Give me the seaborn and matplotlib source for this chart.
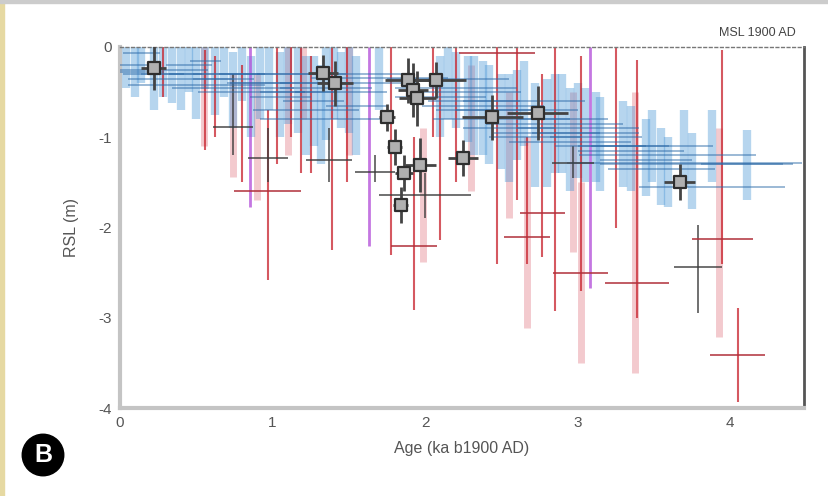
import numpy as np
import pandas as pd
import matplotlib
matplotlib.use("Agg")
import matplotlib.pyplot as plt
import seaborn as sns
from matplotlib.patches import Rectangle

# ---------------- data ----------------
# blue records: x, y (centre), x half-width, vertical top, vertical bottom
blue_x   = [0.04, 0.10, 0.14, 0.22, 0.28, 0.34, 0.40, 0.45, 0.50, 0.56, 0.62, 0.68, 0.74, 0.80, 0.86, 0.92, 0.98,
            1.05, 1.10, 1.17, 1.22, 1.27, 1.32, 1.35, 1.40, 1.45, 1.50, 1.55,
            1.70, 2.10, 2.15, 2.20, 2.28, 2.32, 2.38, 2.42, 2.50, 2.55, 2.60, 2.65, 2.72, 2.80, 2.85, 2.90, 2.95,
            3.00, 3.05, 3.12, 3.15, 3.30, 3.35, 3.45, 3.49, 3.55, 3.59, 3.70, 3.75, 3.88, 4.11]
blue_y   = [-0.28, -0.20, -0.07, -0.30, -0.25, -0.30, -0.35, -0.20, -0.42, -0.15, -0.30, -0.35, -0.45, -0.30, -0.50, -0.40, -0.30,
            -0.55, -0.40, -0.50, -0.70, -0.60, -0.80, -0.45, -0.30, -0.50, -0.40, -0.65,
            -0.34, -0.55, -0.35, -0.45, -0.50, -0.60, -0.65, -0.70, -0.80, -0.90, -0.70, -0.60, -1.00, -0.95, -0.85, -0.80, -1.05,
            -0.90, -0.95, -1.00, -1.10, -1.10, -1.15, -1.25, -1.10, -1.35, -1.20, -1.28, -1.30, -1.55, -1.30]
blue_xe  = [0.25, 0.15, 0.12, 0.20, 0.30, 0.20, 0.35, 0.15, 0.45, 0.10, 0.30, 0.20, 0.40, 0.15, 0.35, 0.20, 0.50,
            0.20, 0.40, 0.25, 0.35, 0.20, 0.40, 0.30, 0.50, 0.30, 0.45, 0.20,
            0.45, 0.30, 0.40, 0.40, 0.35, 0.30, 0.40, 0.35, 0.45, 0.30, 0.40, 0.40, 0.30, 0.35, 0.45, 0.30, 0.40,
            0.40, 0.35, 0.30, 0.30, 0.30, 0.35, 0.30, 0.40, 0.35, 0.58, 0.77, 0.60, 0.48, 0.30]
blue_top = [0.00, 0.00, 0.00, 0.00, 0.00, 0.00, 0.00, 0.00, 0.00, 0.00, 0.00, 0.00, -0.05, 0.00, -0.10, 0.00, 0.00,
            -0.05, 0.00, 0.00, -0.10, -0.10, -0.20, 0.00, 0.00, -0.05, 0.00, -0.10,
            0.00, -0.10, 0.00, -0.05, -0.10, -0.10, -0.15, -0.20, -0.30, -0.30, -0.25, -0.15, -0.40, -0.35, -0.30, -0.30, -0.45,
            -0.40, -0.45, -0.50, -0.55, -0.60, -0.65, -0.80, -0.70, -0.90, -1.00, -0.70, -0.95, -0.70, -0.92]
blue_bot = [-0.45, -0.55, -0.40, -0.70, -0.55, -0.62, -0.70, -0.50, -0.80, -0.47, -0.75, -0.55, -0.90, -0.60, -1.00, -0.80, -0.70,
            -1.00, -0.85, -0.95, -1.20, -1.10, -1.30, -1.03, -0.80, -0.90, -0.95, -1.20,
            -0.70, -1.00, -0.80, -0.90, -1.05, -1.20, -1.20, -1.30, -1.35, -1.50, -1.25, -1.10, -1.55, -1.55, -1.40, -1.40, -1.60,
            -1.45, -1.50, -1.50, -1.60, -1.55, -1.60, -1.65, -1.50, -1.75, -1.77, -1.55, -1.80, -1.50, -1.70]

# thin red records
red_x   = [0.28, 0.56, 0.62, 0.80, 0.97, 1.03, 1.12, 1.19, 1.25, 1.39, 1.49, 1.78, 1.93, 2.05, 2.10, 2.20,
           2.47, 2.60, 2.67, 2.77, 2.85, 3.02, 3.25, 3.39, 3.95, 4.05]
red_y   = [-0.30, -0.60, -0.50, -0.80, -1.60, -0.60, -0.50, -0.90, -0.70, -1.20, -0.70, -1.00, -2.21, -0.50, -1.00, -0.80,
           -0.07, -0.90, -2.10, -1.84, -1.00, -2.50, -1.00, -2.62, -2.13, -3.41]
red_xe  = [0.00, 0.00, 0.00, 0.00, 0.22, 0.00, 0.00, 0.00, 0.00, 0.00, 0.00, 0.00, 0.15, 0.00, 0.00, 0.00,
           0.25, 0.00, 0.15, 0.15, 0.00, 0.18, 0.00, 0.21, 0.20, 0.18]
red_top = [0.00, -0.03, -0.10, -0.20, -0.70, 0.00, 0.00, 0.00, -0.10, 0.00, 0.00, 0.00, -1.00, 0.00, -0.30, 0.00,
           0.00, 0.00, -1.00, -0.30, 0.00, -0.10, 0.00, -0.14, -0.03, -2.89]
red_bot = [-0.55, -1.14, -1.00, -1.50, -2.58, -1.30, -1.00, -1.40, -1.40, -2.25, -1.50, -2.30, -2.91, -1.00, -2.14, -1.50,
           -2.40, -1.70, -2.40, -2.33, -2.93, -2.70, -2.00, -3.00, -2.40, -3.93]

# wide pink records
pink_x   = [0.55, 0.74, 0.90, 1.10, 1.20, 1.50, 1.99, 2.30, 2.55, 2.67, 2.97, 3.02, 3.38, 3.93]
pink_top = [0.00, -0.29, -0.30, 0.00, 0.00, 0.00, -0.90, -0.20, -0.50, -1.00, -0.50, -1.50, -0.50, -0.90]
pink_bot = [-1.10, -1.44, -1.70, -1.20, -0.80, -1.20, -2.38, -1.60, -1.90, -3.11, -2.27, -3.50, -3.61, -3.21]

# purple records
purp_x   = [0.85, 1.63, 3.08]
purp_top = [0.00, 0.00, 0.00]
purp_bot = [-1.77, -2.20, -2.67]

# dark grey crosses
dark_x   = [0.74, 0.97, 1.37, 1.67, 2.00, 2.97, 3.79]
dark_y   = [-0.89, -1.23, -1.25, -1.38, -1.64, -1.28, -2.44]
dark_xe  = [0.13, 0.13, 0.15, 0.13, 0.30, 0.14, 0.16]
dark_top = [-0.30, -0.90, -0.90, -1.20, -1.40, -1.10, -1.97]
dark_bot = [-1.20, -1.50, -1.50, -1.50, -1.90, -1.45, -2.95]

# index points (grey squares)
sq_x   = [0.22, 1.33, 1.41, 1.75, 1.80, 1.86, 1.84, 1.89, 1.92, 1.95, 2.07, 1.97, 2.25, 2.44, 2.74, 3.67]
sq_y   = [-0.23, -0.29, -0.40, -0.78, -1.11, -1.40, -1.75, -0.37, -0.48, -0.57, -0.37, -1.31, -1.23, -0.78, -0.73, -1.50]
sq_xe  = [0.08, 0.10, 0.12, 0.05, 0.05, 0.06, 0.05, 0.15, 0.10, 0.12, 0.20, 0.10, 0.10, 0.20, 0.20, 0.10]
sq_ye  = [0.25, 0.20, 0.25, 0.15, 0.20, 0.20, 0.20, 0.25, 0.30, 0.30, 0.20, 0.30, 0.20, 0.25, 0.30, 0.20]

x_ticks = [0, 1, 2, 3, 4]
y_ticks = [0, -1, -2, -3, -4]

# ---------------- figure ----------------
sns.set_style("white")
plt.rcParams['font.family'] = ['Liberation Sans', 'DejaVu Sans']

fig = plt.figure(figsize=(8.29, 4.96), dpi=100)
ax = fig.add_axes([120/829, 1-408/496, (804-120)/829, (408-47)/496])

def draw(xs, tops, bots, color, lw, alpha, ys=None, xes=None, hcolor=None, hlw=1.2, halpha=0.8):
    for i, x in enumerate(xs):
        ax.vlines(x, bots[i], tops[i], color=color, lw=lw, alpha=alpha, zorder=2)
        if ys is not None and xes is not None and xes[i] > 0:
            ax.hlines(ys[i], x - xes[i], x + xes[i], color=hcolor or color, lw=hlw, alpha=halpha, zorder=3)

draw(pink_x, pink_top, pink_bot, '#e58a94', 5, 0.45)
draw(blue_x, blue_top, blue_bot, '#4a96d6', 6, 0.40, blue_y, blue_xe, '#2d6aa8', 1.1, 0.6)
draw(purp_x, purp_top, purp_bot, '#b04ad8', 2.0, 0.75)
draw(red_x, red_top, red_bot, '#c8222c', 1.5, 0.75, red_y, red_xe, '#b0303a', 1.3, 0.85)
draw(dark_x, dark_top, dark_bot, '#3a3a3a', 1.2, 0.85, dark_y, dark_xe, '#3a3a3a', 1.2, 0.85)

ax.errorbar(sq_x, sq_y, xerr=sq_xe, yerr=sq_ye, fmt='none', ecolor='#444444', elinewidth=2, zorder=4)
sq_df = pd.DataFrame({'age': sq_x, 'rsl': sq_y})
sns.scatterplot(data=sq_df, x='age', y='rsl', marker='s', s=80, color='#b0b0b0',
                edgecolor='#2e2e2e', linewidth=1.6, ax=ax, zorder=5, legend=False)

ax.set_xlim(0, 4.485)
ax.set_ylim(-4, 0)
ax.set_xticks(x_ticks)
ax.set_yticks(y_ticks)
ax.set_xticklabels([str(t) for t in x_ticks])
ax.set_yticklabels([str(t) for t in y_ticks])
ax.tick_params(axis='both', direction='in', length=3, width=1.2, color='#333333',
               labelsize=11, labelcolor='#555555', pad=6)
ax.set_xlabel('Age (ka b1900 AD)', fontsize=11.5, color='#555555', labelpad=8)
ax.set_ylabel('RSL (m)', fontsize=11.5, color='#555555', labelpad=14)

for side in ['left', 'bottom']:
    ax.spines[side].set_color('#c4c4c4')
    ax.spines[side].set_linewidth(3)
ax.spines['right'].set_color('#555555')
ax.spines['right'].set_linewidth(2)
ax.spines['top'].set_color('#777777')
ax.spines['top'].set_linewidth(1)
ax.spines['top'].set_linestyle((0, (2, 2)))

fig.text(796/829, 1-33/496, 'MSL 1900 AD', ha='right', va='center', fontsize=9, color='#444444')
fig.text(43/829, 1-455/496, 'B', ha='center', va='center', fontsize=18, color='white',
         fontweight='bold', bbox=dict(boxstyle='circle,pad=0.35', fc='black', ec='black'))

fig.add_artist(Rectangle((0, 0), 4/829, 1, transform=fig.transFigure, color='#e6d9a2', zorder=0))
fig.add_artist(Rectangle((0, 1-3/496), 1, 3/496, transform=fig.transFigure, color='#cccccc', zorder=0))

fig.savefig('out.png', dpi=100)
